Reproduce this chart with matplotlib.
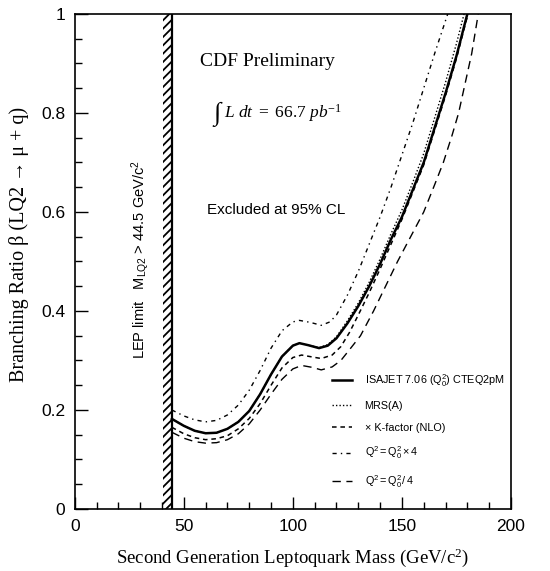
import matplotlib
matplotlib.use("Agg")
import matplotlib.pyplot as plt
from matplotlib.ticker import MultipleLocator

plt.rcParams["mathtext.fontset"] = "custom"
plt.rcParams["mathtext.rm"] = "Liberation Serif"
plt.rcParams["mathtext.it"] = "Liberation Serif:italic"
plt.rcParams["hatch.linewidth"] = 1.3

# 95% CL limit curves: leptoquark mass (GeV/c^2) vs branching ratio beta
mass_isajet = [44.5, 50, 55, 60, 65, 70, 75, 80, 85, 90, 95, 100, 103, 107, 112, 116,
               120, 125, 130, 135, 140, 145, 150, 155, 160, 165, 170, 175, 180]
beta_isajet = [0.182, 0.168, 0.158, 0.153, 0.154, 0.162, 0.176, 0.198, 0.232, 0.272,
               0.308, 0.330, 0.335, 0.331, 0.325, 0.330, 0.345, 0.375, 0.410, 0.450,
               0.495, 0.545, 0.590, 0.645, 0.700, 0.770, 0.840, 0.915, 1.000]

mass_mrsa = [44.5, 50, 55, 60, 65, 70, 75, 80, 85, 90, 95, 100, 103, 107, 112, 116,
             120, 125, 130, 135, 140, 145, 150, 155, 160, 165, 170, 175, 178.5]
beta_mrsa = [0.182, 0.168, 0.158, 0.153, 0.154, 0.162, 0.176, 0.198, 0.232, 0.272,
             0.308, 0.330, 0.335, 0.331, 0.326, 0.332, 0.348, 0.380, 0.416, 0.458,
             0.505, 0.556, 0.604, 0.660, 0.718, 0.790, 0.862, 0.940, 1.000]

mass_kfac = [44.5, 50, 55, 60, 65, 70, 75, 80, 85, 90, 95, 100, 104, 109, 113, 118,
             122, 126, 130, 135, 140, 145, 150, 155, 160, 165, 170, 175, 180]
beta_kfac = [0.165, 0.152, 0.144, 0.140, 0.142, 0.148, 0.162, 0.183, 0.213, 0.250,
             0.285, 0.306, 0.311, 0.307, 0.304, 0.311, 0.328, 0.357, 0.392, 0.437,
             0.485, 0.535, 0.585, 0.640, 0.695, 0.765, 0.835, 0.910, 0.995]

mass_q2x4 = [44.5, 50, 55, 60, 65, 70, 75, 80, 85, 90, 95, 100, 103, 108, 113, 117,
             120, 125, 130, 135, 140, 145, 150, 155, 160, 165, 171]
beta_q2x4 = [0.200, 0.188, 0.180, 0.176, 0.179, 0.190, 0.210, 0.240, 0.280, 0.325,
             0.360, 0.378, 0.381, 0.377, 0.371, 0.378, 0.392, 0.432, 0.480, 0.535,
             0.590, 0.650, 0.715, 0.780, 0.850, 0.920, 1.000]

mass_q2d4 = [44.5, 50, 55, 60, 65, 70, 75, 80, 85, 90, 95, 100, 104, 109, 113, 118,
             122, 126, 131, 137, 142.5, 148, 154, 160, 165, 169, 173, 176, 179, 182, 185]
beta_q2d4 = [0.155, 0.143, 0.136, 0.133, 0.134, 0.140, 0.152, 0.172, 0.200, 0.232,
             0.262, 0.283, 0.290, 0.286, 0.281, 0.287, 0.300, 0.322, 0.350, 0.400,
             0.450, 0.500, 0.550, 0.600, 0.655, 0.700, 0.755, 0.800, 0.860, 0.920, 1.000]

series_labels = [r"ISAJET 7.06 ($\mathregular{Q_0^2}$) CTEQ2pM",
                 "MRS(A)",
                 "\u00d7 K-factor (NLO)",
                 r"$\mathregular{Q^2 = Q_0^2 \times 4}$",
                 r"$\mathregular{Q^2 = Q_0^2\,/\,4}$"]

lep_limit = 44.5
x_ticks = [0, 50, 100, 150, 200]
y_ticks = [0, 0.2, 0.4, 0.6, 0.8, 1]
y_tick_labels = ["0", "0.2", "0.4", "0.6", "0.8", "1"]

serif = "Liberation Serif"
sans = "Liberation Sans"

fig = plt.figure(figsize=(5.5, 5.71), dpi=100)
ax = fig.add_axes([0.136, 0.1086, 0.793, 0.8669])

# LEP exclusion band
ax.axvspan(40.3, lep_limit, facecolor="none", edgecolor="black", hatch="////",
           linewidth=0)
ax.axvline(lep_limit, color="black", linewidth=1.6)

ax.plot(mass_isajet, beta_isajet, color="black", lw=1.8, ls="-", label=series_labels[0])
ax.plot(mass_mrsa, beta_mrsa, color="black", lw=1.0, ls=(0, (1, 1.5)), label=series_labels[1])
ax.plot(mass_kfac, beta_kfac, color="black", lw=1.1, ls=(0, (3, 2.5)), label=series_labels[2])
ax.plot(mass_q2x4, beta_q2x4, color="black", lw=1.0, ls=(0, (3, 3, 1, 3)), label=series_labels[3])
ax.plot(mass_q2d4, beta_q2d4, color="black", lw=1.0, ls=(0, (6, 4)), label=series_labels[4])

ax.set_xlim(0, 200)
ax.set_ylim(0, 1)
ax.set_xticks(x_ticks)
ax.set_xticklabels([str(v) for v in x_ticks], fontfamily=sans, fontsize=12.5)
ax.set_yticks(y_ticks)
ax.set_yticklabels(y_tick_labels, fontfamily=sans, fontsize=12.5)
ax.xaxis.set_minor_locator(MultipleLocator(10))
ax.yaxis.set_minor_locator(MultipleLocator(0.05))
ax.tick_params(which="major", direction="in", length=9, width=1, top=False, right=False, pad=7)
ax.tick_params(which="minor", direction="in", length=5, width=1, top=False, right=False)
for s in ax.spines.values():
    s.set_linewidth(1.2)

ax.set_xlabel(r"Second Generation Leptoquark Mass (GeV/c$\mathregular{^2}$)",
              fontfamily=serif, fontsize=13.5, labelpad=9)
ax.set_ylabel("Branching Ratio \u03b2 (LQ2 \u2192 \u03bc + q)",
              fontfamily=serif, fontsize=14.5, labelpad=10)
ax.yaxis.set_label_coords(-0.105, 0.535)

ax.text(88.5, 0.905, "CDF Preliminary", fontfamily=serif, fontsize=14,
        ha="center", va="center")
ax.text(63.5, 0.798, "\u222b", fontfamily=serif, fontsize=19,
        ha="left", va="center")
ax.text(68.5, 0.800, r"$L\ dt\ =\ 66.7\ pb^{-1}$", fontsize=12.5,
        ha="left", va="center")
ax.text(60.5, 0.605, "Excluded at 95% CL", fontfamily=sans, fontsize=11,
        ha="left", va="center")
ax.text(30, 0.505, r"LEP limit   M$_{\mathregular{LQ2}}$ > 44.5 GeV/c$\mathregular{^2}$",
        fontfamily=sans, fontsize=10.5, rotation=90, ha="center", va="center")

leg = ax.legend(loc="lower right", bbox_to_anchor=(1.0, 0.025), frameon=False,
                prop={"family": sans, "size": 7.8}, handlelength=1.9,
                labelspacing=1.1, handletextpad=1.15, borderaxespad=0.2)

fig.savefig("out.png", dpi=100)
